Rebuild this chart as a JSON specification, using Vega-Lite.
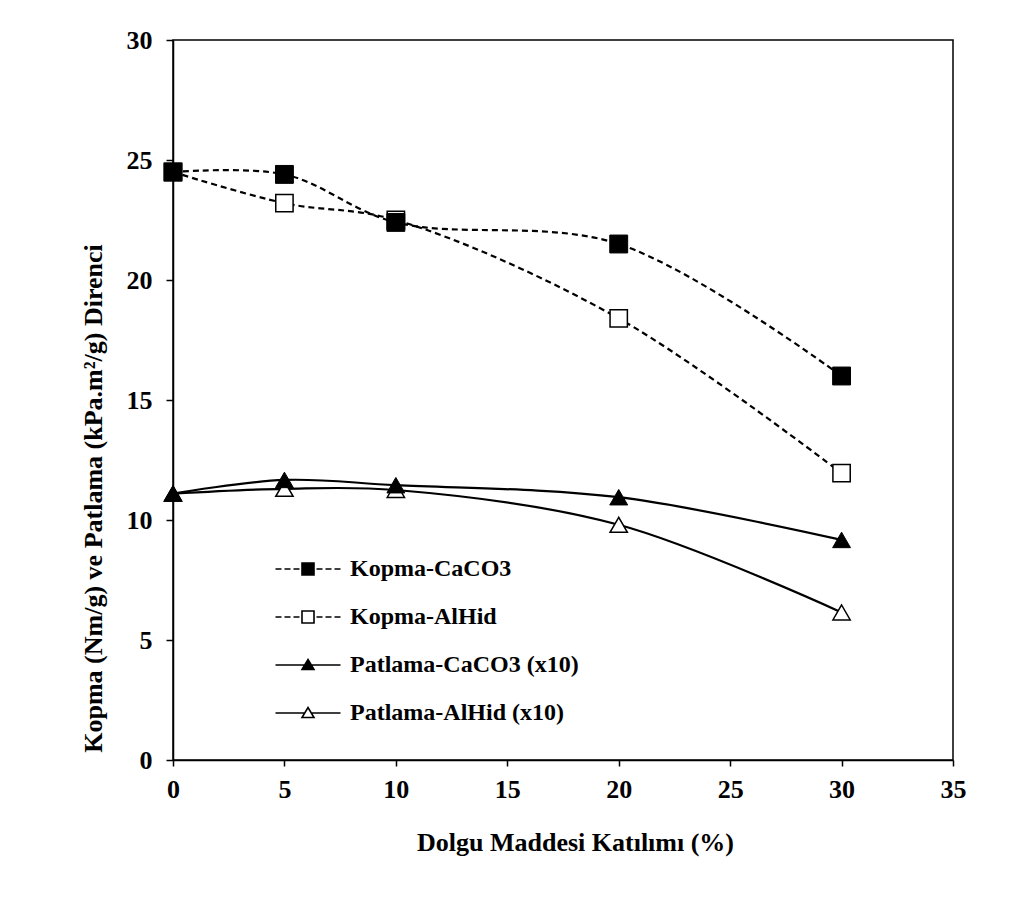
{
  "$schema": "https://vega.github.io/schema/vega-lite/v6.json",
  "width": 780,
  "height": 720,
  "autosize": {"type": "none"},
  "padding": {"left": 173, "top": 40, "right": 62, "bottom": 139},
  "background": "white",
  "config": {
    "view": {"stroke": "black", "strokeWidth": 1.5},
    "axis": {
      "grid": false,
      "domainColor": "black",
      "domainWidth": 1.5,
      "tickColor": "black",
      "tickWidth": 1.5,
      "labelFont": "Liberation Serif",
      "labelFontWeight": "bold",
      "labelFontSize": 26,
      "labelColor": "black",
      "titleFont": "Liberation Serif",
      "titleFontWeight": "bold",
      "titleColor": "black"
    }
  },
  "data": {
    "values": [
      {"x": 0, "y": 24.5, "s": "Kopma-CaCO3"},
      {"x": 5, "y": 24.4, "s": "Kopma-CaCO3"},
      {"x": 10, "y": 22.4, "s": "Kopma-CaCO3"},
      {"x": 20, "y": 21.5, "s": "Kopma-CaCO3"},
      {"x": 30, "y": 16.0, "s": "Kopma-CaCO3"},
      {"x": 0, "y": 24.5, "s": "Kopma-AlHid"},
      {"x": 5, "y": 23.2, "s": "Kopma-AlHid"},
      {"x": 10, "y": 22.5, "s": "Kopma-AlHid"},
      {"x": 20, "y": 18.4, "s": "Kopma-AlHid"},
      {"x": 30, "y": 11.95, "s": "Kopma-AlHid"},
      {"x": 0, "y": 11.1, "s": "Patlama-CaCO3 (x10)"},
      {"x": 5, "y": 11.67, "s": "Patlama-CaCO3 (x10)"},
      {"x": 10, "y": 11.45, "s": "Patlama-CaCO3 (x10)"},
      {"x": 20, "y": 10.95, "s": "Patlama-CaCO3 (x10)"},
      {"x": 30, "y": 9.17, "s": "Patlama-CaCO3 (x10)"},
      {"x": 0, "y": 11.1, "s": "Patlama-AlHid (x10)"},
      {"x": 5, "y": 11.3, "s": "Patlama-AlHid (x10)"},
      {"x": 10, "y": 11.25, "s": "Patlama-AlHid (x10)"},
      {"x": 20, "y": 9.8, "s": "Patlama-AlHid (x10)"},
      {"x": 30, "y": 6.15, "s": "Patlama-AlHid (x10)"}
    ]
  },
  "encoding": {
    "x": {
      "field": "x", "type": "quantitative",
      "scale": {"domain": [0, 35], "nice": false, "zero": false},
      "axis": {"values": [0, 5, 10, 15, 20, 25, 30, 35], "title": "Dolgu Maddesi Katılımı (%)", "titleFontSize": 26, "tickSize": 6, "labelPadding": 10, "titleX": 402, "titleY": 82, "titleBaseline": "middle", "labelFlush": false}
    },
    "y": {
      "field": "y", "type": "quantitative",
      "scale": {"domain": [0, 30], "nice": false},
      "axis": {"values": [0, 5, 10, 15, 20, 25, 30], "title": "Kopma (Nm/g) ve Patlama (kPa.m²/g) Direnci", "titleFontSize": 26, "tickSize": 7, "labelPadding": 14, "titleX": -80, "titleY": 458, "titleBaseline": "middle", "titleAngle": -90, "titleAlign": "center"}
    }
  },
  "layer": [
    {
      "transform": [{"filter": {"field": "s", "oneOf": ["Kopma-CaCO3", "Kopma-AlHid"]}}],
      "mark": {"type": "line", "color": "black", "strokeWidth": 2.2, "strokeDash": [6, 4], "interpolate": "catmull-rom"},
      "encoding": {"detail": {"field": "s"}}
    },
    {
      "transform": [{"filter": {"field": "s", "oneOf": ["Patlama-CaCO3 (x10)", "Patlama-AlHid (x10)"]}}],
      "mark": {"type": "line", "color": "black", "strokeWidth": 2.2, "interpolate": "catmull-rom"},
      "encoding": {"detail": {"field": "s"}}
    },
    {
      "transform": [{"filter": {"field": "s", "equal": "Kopma-AlHid"}}],
      "mark": {"type": "point", "shape": "square", "size": 300, "filled": false, "fill": "white", "fillOpacity": 1, "stroke": "black", "strokeWidth": 1.5, "opacity": 1}
    },
    {
      "transform": [{"filter": {"field": "s", "equal": "Kopma-CaCO3"}}],
      "mark": {"type": "point", "shape": "square", "size": 320, "filled": true, "fill": "black", "stroke": "black", "strokeWidth": 1, "opacity": 1}
    },
    {
      "transform": [{"filter": {"field": "s", "equal": "Patlama-AlHid (x10)"}}],
      "mark": {"type": "point", "shape": "triangle-up", "size": 300, "filled": false, "fill": "white", "fillOpacity": 1, "stroke": "black", "strokeWidth": 1.5, "opacity": 1}
    },
    {
      "transform": [{"filter": {"field": "s", "equal": "Patlama-CaCO3 (x10)"}}],
      "mark": {"type": "point", "shape": "triangle-up", "size": 320, "filled": true, "fill": "black", "stroke": "black", "strokeWidth": 1, "opacity": 1}
    },
    {
      "mark": {"type": "point", "opacity": 0, "filled": true, "stroke": "black", "strokeWidth": 1.5, "size": 400},
      "encoding": {
        "shape": {
          "field": "s", "type": "nominal",
          "scale": {
            "domain": ["Kopma-CaCO3", "Kopma-AlHid", "Patlama-CaCO3 (x10)", "Patlama-AlHid (x10)"],
            "range": [
              "M-3.25,0L-2.65,0M-2.35,0L-1.75,0M-1.45,0L-0.85,0M-0.6,-0.6L0.6,-0.6L0.6,0.6L-0.6,0.6ZM0.85,0L1.45,0M1.75,0L2.35,0M2.65,0L3.25,0",
              "M-3.25,0L-2.65,0M-2.35,0L-1.75,0M-1.45,0L-0.85,0M-0.6,-0.6L0.6,-0.6L0.6,0.6L-0.6,0.6ZM0.85,0L1.45,0M1.75,0L2.35,0M2.65,0L3.25,0",
              "M-3.25,0L-0.35,0M0.35,0L3.25,0M0,-0.55L0.6,0.45L-0.6,0.45Z",
              "M-3.25,0L-0.35,0M0.35,0L3.25,0M0,-0.55L0.6,0.45L-0.6,0.45Z"
            ]
          },
          "legend": {
            "title": null, "orient": "none", "legendX": 123, "legendY": 517,
            "padding": 0, "rowPadding": 24, "labelOffset": 30,
            "symbolSize": 400, "symbolOpacity": 1, "symbolStrokeColor": "black", "symbolStrokeWidth": 1.5,
            "labelFont": "Liberation Serif", "labelFontWeight": "bold", "labelFontSize": 24, "labelColor": "black", "labelLimit": 400,
            "encode": {"symbols": {"update": {"stroke": {"value": "black"}, "strokeWidth": {"value": 1.6}, "opacity": {"value": 1}}}}
          }
        },
        "fill": {
          "field": "s", "type": "nominal",
          "scale": {
            "domain": ["Kopma-CaCO3", "Kopma-AlHid", "Patlama-CaCO3 (x10)", "Patlama-AlHid (x10)"],
            "range": ["black", "white", "black", "white"]
          },
          "legend": {
            "title": null, "orient": "none", "legendX": 123, "legendY": 517,
            "padding": 0, "rowPadding": 24, "labelOffset": 30,
            "symbolSize": 400, "symbolOpacity": 1, "symbolStrokeColor": "black", "symbolStrokeWidth": 1.5,
            "labelFont": "Liberation Serif", "labelFontWeight": "bold", "labelFontSize": 24, "labelColor": "black", "labelLimit": 400,
            "encode": {"symbols": {"update": {"stroke": {"value": "black"}, "strokeWidth": {"value": 1.6}, "opacity": {"value": 1}}}}
          }
        }
      }
    }
  ]
}
